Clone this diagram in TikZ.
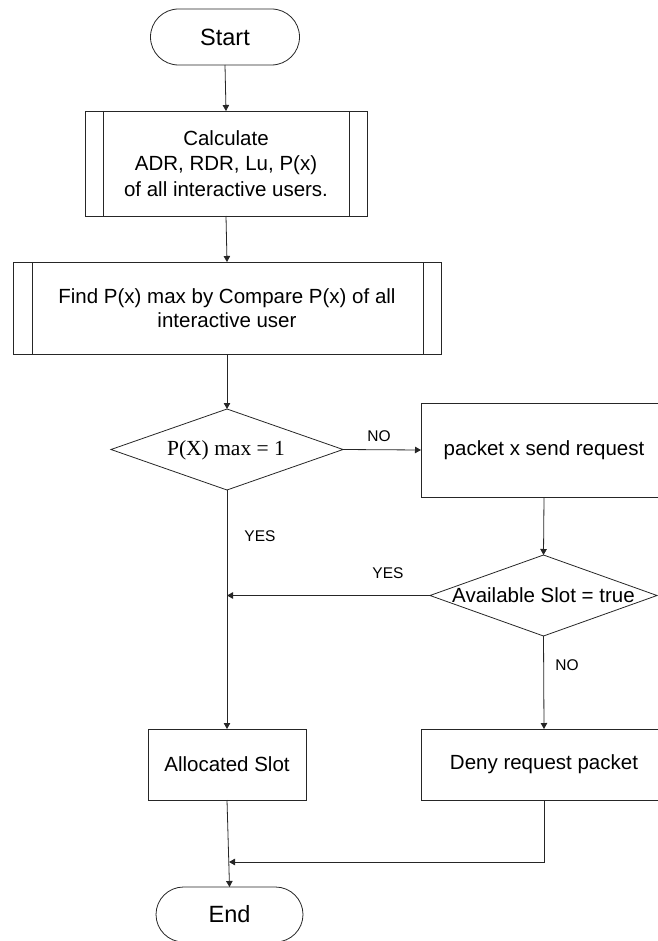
\documentclass[tikz,border=0pt]{standalone}
\usepackage{fontspec}
\setmainfont{Liberation Sans}
\newfontfamily\serifA{Liberation Serif}
\usetikzlibrary{arrows.meta,shapes.geometric,shapes.misc}
\begin{document}
\begin{tikzpicture}[x=1pt,y=-1pt,
  every node/.style={inner sep=0pt, outer sep=0pt},
  ln/.style={line width=0.8pt, draw=black!85},
  arr/.style={ln, -{Triangle[length=6pt,width=6.5pt]}},
  term/.style={ln, rounded rectangle, font=\fontsize{23.5}{28}\selectfont},
  proc/.style={ln, rectangle, font=\fontsize{20.5}{25.5}\selectfont, align=center},
  dec/.style={ln, diamond},
  txt/.style={font=\fontsize{20.5}{25.5}\selectfont, align=center},
  lbl/.style={font=\fontsize{15.5}{18}\selectfont}]
\useasboundingbox (0,0) rectangle (657,941);

\node[term, minimum width=149pt, minimum height=56pt] (start) at (225,37) {Start};

\node[proc, minimum width=282pt, minimum height=105pt] (calc) at (226,163.5)
  {Calculate\\ADR, RDR, Lu, P(x)\\of all interactive users.};
\draw[ln] ([xshift=18pt]calc.north west) -- ([xshift=18pt]calc.south west);
\draw[ln] ([xshift=-18pt]calc.north east) -- ([xshift=-18pt]calc.south east);

\node[proc, minimum width=428pt, minimum height=92pt, font=\fontsize{20.5}{24}\selectfont] (find) at (227,308)
  {Find P(x) max by Compare P(x) of all\\interactive user};
\draw[ln] ([xshift=19pt]find.north west) -- ([xshift=19pt]find.south west);
\draw[ln] ([xshift=-18pt]find.north east) -- ([xshift=-18pt]find.south east);

\node[dec, minimum width=232pt, minimum height=81pt] (d1) at (227,449.5) {};
\node[font=\serifA\fontsize{21.5}{25}\selectfont] (d1t) at (226,450) {P(X) max = 1};

\node[proc, minimum width=246pt, minimum height=94pt] (packet) at (544,450) {packet x send request};

\node[dec, minimum width=227pt, minimum height=81pt] (d2) at (543.5,595.5) {};
\node[txt] (d2t) at (543.5,595.5) {Available Slot = true};

\node[proc, minimum width=158pt, minimum height=71pt] (alloc) at (227,764.5) {Allocated Slot};
\node[proc, minimum width=246pt, minimum height=71pt] (deny) at (544,764.5) {Deny request packet};

\node[term, minimum width=147pt, minimum height=55pt] (end) at (229.5,914.5) {End};

\coordinate (yesj) at (227,595.5);
\coordinate (joinpt) at (229,862);

\draw[arr] (start.south) -- (calc.north);
\draw[arr] (calc.south) -- (find.north);
\draw[arr] (find.south) -- (d1.north);
\draw[arr] (d1.east) -- (packet.west);
\draw[arr] (packet.south) -- (d2.north);
\draw[arr] (d1.south) -- (alloc.north);
\draw[arr] (d2.west) -- (yesj);
\draw[arr] (d2.south) -- (deny.north);
\draw[arr] (alloc.south) -- (end.north);
\draw[arr] (deny.south) |- (joinpt);

\node[lbl] (lno1) at (379,436) {NO};
\node[lbl] (lyes1) at (260,536) {YES};
\node[lbl] (lyes2) at (388,573) {YES};
\node[lbl] (lno2) at (567,665) {NO};
\end{tikzpicture}
\end{document}
